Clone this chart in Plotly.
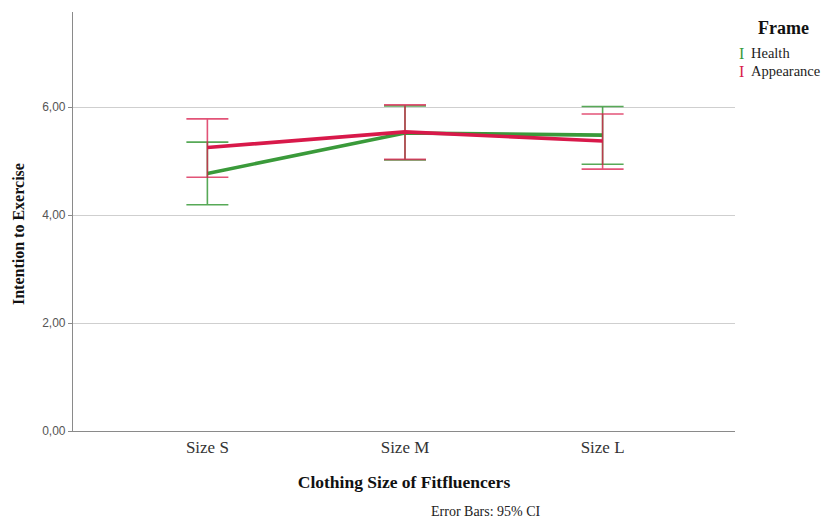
import plotly.graph_objects as go

categories = ["Size S", "Size M", "Size L"]
health_mean = [4.77, 5.52, 5.48]
health_low = [4.19, 5.02, 4.94]
health_high = [5.35, 6.02, 6.01]
appear_mean = [5.25, 5.54, 5.37]
appear_low = [4.70, 5.03, 4.85]
appear_high = [5.78, 6.04, 5.87]
y_ticks = [0, 2, 4, 6]

GREEN = "#3a9a3a"
RED = "#d8194a"

fig = go.Figure()


def add_series(name, mean, low, high, color, err_color):
    fig.add_trace(go.Scatter(
        x=categories, y=mean, name=name, mode="lines",
        line=dict(color=color, width=3.6),
        error_y=dict(type="data", symmetric=False,
                     array=[h - m for h, m in zip(high, mean)],
                     arrayminus=[m - l for m, l in zip(mean, low)],
                     color=err_color, thickness=1.6, width=21),
        showlegend=False,
    ))


add_series("Health", health_mean, health_low, health_high, GREEN, "rgba(58,154,58,0.85)")
add_series("Appearance", appear_mean, appear_low, appear_high, RED, "rgba(216,25,74,0.75)")

serif = "Liberation Serif, Times New Roman, serif"

# page has an 8px body margin; plot area on screen: x 73..735, y 12..431
fig.update_layout(
    width=814, height=513,
    margin=dict(l=65, r=87, t=4, b=90),
    plot_bgcolor="white", paper_bgcolor="white",
    separators=",.",
    font=dict(family=serif, color="#222"),
    xaxis=dict(
        type="category", range=[-0.68, 2.67],
        showline=True, linecolor="#8a8a8a", linewidth=1.2,
        showgrid=False, ticks="",
        tickfont=dict(family=serif, size=17, color="#333"),
        title=dict(text="<b>Clothing Size of Fitfluencers</b>",
                   font=dict(family=serif, size=17.5, color="#111"), standoff=20),
    ),
    yaxis=dict(
        range=[0, 7.76], tickvals=y_ticks, tickformat=".2f",
        showline=True, linecolor="#8a8a8a", linewidth=1.2,
        showgrid=True, gridcolor="#cfcfcf", gridwidth=1,
        zeroline=False,
        ticks="outside", ticklen=4, tickcolor="#8a8a8a",
        tickfont=dict(family="Liberation Sans, Arial, sans-serif", size=12, color="#555"),
    ),
)


def px(sx):
    return (sx - 73) / 662


def py(sy):
    return (431 - sy) / 419


def note(text, sx, sy, size, xanchor="center", color="#222", angle=0):
    fig.add_annotation(x=px(sx), y=py(sy), xref="paper", yref="paper",
                       xanchor=xanchor, yanchor="middle", text=text, showarrow=False,
                       textangle=angle, font=dict(family=serif, size=size, color=color))


note("<b>Intention to Exercise</b>", 18, 234, 16, color="#111", angle=-90)
note("<b>Frame</b>", 783, 28, 18, color="#111")
note("I", 741, 53, 16, color=GREEN)
note("Health", 749, 53, 14.5, xanchor="left")
note("I", 741, 71, 16, color=RED)
note("Appearance", 749, 71, 14.5, xanchor="left")
note("Error Bars: 95% CI", 486, 512, 14)

fig.write_html("out.html")
